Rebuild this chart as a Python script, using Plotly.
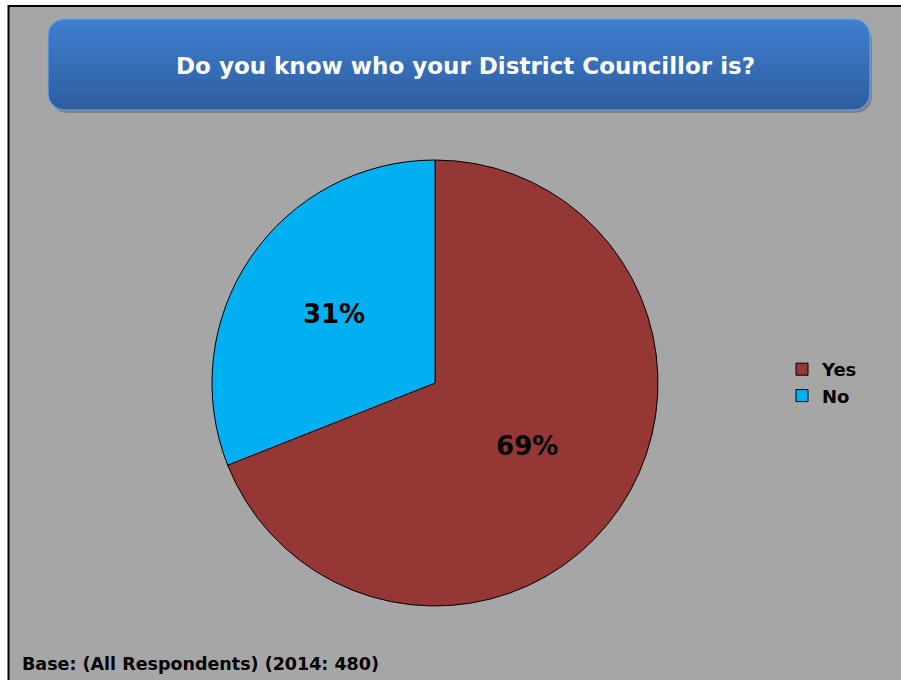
"""Pie chart: awareness of District Councillor."""

import math

import plotly.graph_objects as go

W, H = 901, 680

labels = ["Yes", "No"]
values = [69, 31]
colors = ["#953735", "#00B0F0"]

title_text = "Do you know who your District Councillor is?"
base_text = "Base: (All Respondents) (2014: 480)"

FONT = "DejaVu Sans, Verdana, sans-serif"
BG = "#A6A6A6"


def rounded_box(x0, y0, x1, y1, r, n=8):
    """Polygon points of a rounded rectangle in pixel space."""
    xs, ys = [], []
    corners = [(x1 - r, y0 + r, -90), (x1 - r, y1 - r, 0),
               (x0 + r, y1 - r, 90), (x0 + r, y0 + r, 180)]
    for cx, cy, a0 in corners:
        for i in range(n + 1):
            a = math.radians(a0 + 90 * i / n)
            xs.append(cx + r * math.cos(a))
            ys.append(cy + r * math.sin(a))
    xs.append(xs[0])
    ys.append(ys[0])
    return xs, ys


fig = go.Figure()

# title banner: shadow + gradient box
sx, sy = rounded_box(51, 23, 872, 113, 16)
fig.add_trace(go.Scatter(
    x=sx, y=sy, fill="toself", mode="lines",
    line=dict(width=0), fillcolor="rgba(60,60,60,0.35)",
    hoverinfo="skip", showlegend=False,
))
bx, by = rounded_box(48, 19, 870, 110, 16)
fig.add_trace(go.Scatter(
    x=bx, y=by, fill="toself", mode="lines",
    line=dict(width=1.2, color="#6FA3E8"),
    fillgradient=dict(
        type="vertical",
        colorscale=[[0, "#2E5E9F"], [0.55, "#3870BA"], [1, "#3F7ED0"]],
    ),
    hoverinfo="skip", showlegend=False,
))

r = 223
cx, cy = 435, 383
fig.add_trace(go.Pie(
    labels=labels,
    values=values,
    marker=dict(colors=colors, line=dict(color="#000000", width=1)),
    sort=False,
    direction="clockwise",
    rotation=0,
    texttemplate="%{percent:.0%}",
    textposition="inside",
    insidetextorientation="horizontal",
    textfont=dict(family=FONT, size=26, color="#000000", weight="bold"),
    domain=dict(x=[(cx - r) / W, (cx + r) / W],
                y=[1 - (cy + r) / H, 1 - (cy - r) / H]),
    hoverinfo="label+percent",
))

fig.add_annotation(
    x=465, y=66, xref="x", yref="y", text="<b>" + title_text + "</b>",
    showarrow=False, font=dict(family=FONT, size=23, color="white"),
)
fig.add_annotation(
    x=20, y=664, xref="x", yref="y", xanchor="left",
    text="<b>" + base_text + "</b>",
    showarrow=False, font=dict(family=FONT, size=17.5, color="black"),
)

# white page edge and frame lines (left and top)
fig.add_shape(type="rect", x0=0, x1=8, y0=0, y1=H, xref="x", yref="y",
              fillcolor="white", line=dict(width=0), layer="below")
fig.add_shape(type="rect", x0=0, x1=W, y0=0, y1=5, xref="x", yref="y",
              fillcolor="white", line=dict(width=0), layer="below")
fig.add_shape(type="line", x0=8.5, x1=8.5, y0=5, y1=H, xref="x", yref="y",
              line=dict(color="black", width=2))
fig.add_shape(type="line", x0=8, x1=W, y0=6, y1=6, xref="x", yref="y",
              line=dict(color="black", width=2))

fig.update_xaxes(range=[0, W], visible=False, fixedrange=True)
fig.update_yaxes(range=[H, 0], visible=False, fixedrange=True)

fig.update_layout(
    width=W, height=H,
    margin=dict(l=0, r=0, t=0, b=0),
    paper_bgcolor=BG, plot_bgcolor=BG,
    showlegend=True,
    legend=dict(
        x=782 / W, y=1 - 382.5 / H, xanchor="left", yanchor="middle",
        font=dict(family=FONT, size=18, color="black", weight="bold"),
        bgcolor="rgba(0,0,0,0)", itemwidth=30,
    ),
)

# figure fills the whole window, no body margin and no scrollbars
fig.write_html(
    "out.html", config={"displayModeBar": False},
    post_script="document.body.style.margin='0';"
                "document.body.style.overflow='hidden';",
)
